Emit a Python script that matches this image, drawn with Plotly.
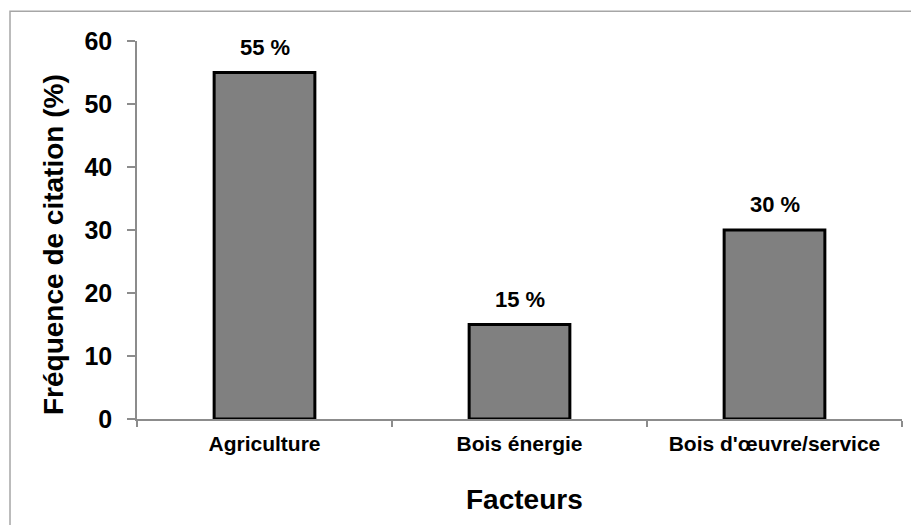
import plotly.graph_objects as go

categories = ["Agriculture", "Bois énergie", "Bois d'œuvre/service"]
values = [55, 15, 30]
value_labels = ["55 %", "15 %", "30 %"]
y_ticks = [0, 10, 20, 30, 40, 50, 60]

FONT = "Liberation Sans, Arial, sans-serif"

fig = go.Figure()
fig.add_trace(go.Bar(
    x=categories,
    y=values,
    width=0.395,
    marker=dict(color="#808080", line=dict(color="#000000", width=3)),
    hoverinfo="skip",
))

for c, v, t in zip(categories, values, value_labels):
    fig.add_annotation(
        x=c, y=v, text="<b>%s</b>" % t, showarrow=False,
        xref="x", yref="y", yanchor="bottom", yshift=11,
        font=dict(family=FONT, size=22, color="#000000"),
    )

fig.add_annotation(
    x=0.506, y=-0.214, xref="paper", yref="paper", text="<b>Facteurs</b>",
    showarrow=False, xanchor="center", yanchor="middle",
    font=dict(family=FONT, size=28, color="#000000"),
)
fig.add_annotation(
    x=-0.1085, y=0.463, xref="paper", yref="paper",
    text="<b>Fréquence de citation (%)</b>", textangle=-90,
    showarrow=False, xanchor="center", yanchor="middle",
    font=dict(family=FONT, size=28, color="#000000"),
)

fig.add_shape(
    type="rect", xref="paper", yref="paper",
    x0=-0.166, x1=1.05, y0=-0.32, y1=1.079,
    line=dict(color="#a6a6a6", width=1.5), fillcolor="rgba(0,0,0,0)",
    layer="below",
)

# page body has an 8px margin, so the figure is sized/offset to compensate
fig.update_layout(
    width=911, height=517, autosize=False,
    margin=dict(l=129, r=17, t=33, b=106),
    paper_bgcolor="white", plot_bgcolor="white",
    showlegend=False,
)
fig.update_xaxes(
    type="category",
    showline=True, linecolor="#8c8c8c", linewidth=1.5,
    ticks="outside", tickson="boundaries", ticklen=6, tickcolor="#8c8c8c", tickwidth=1.5,
    ticklabelstandoff=5,
    tickfont=dict(family=FONT, size=21, color="#000000", weight="bold"),
    showgrid=False, zeroline=False, fixedrange=True,
)
fig.update_yaxes(
    range=[0, 60], tickvals=y_ticks,
    showline=True, linecolor="#8c8c8c", linewidth=1.5,
    ticks="outside", ticklen=8, tickcolor="#8c8c8c", tickwidth=1.5,
    ticklabelstandoff=10,
    tickfont=dict(family=FONT, size=25, color="#000000", weight="bold"),
    showgrid=False, zeroline=False, fixedrange=True,
)

fig.write_html("out.html")
